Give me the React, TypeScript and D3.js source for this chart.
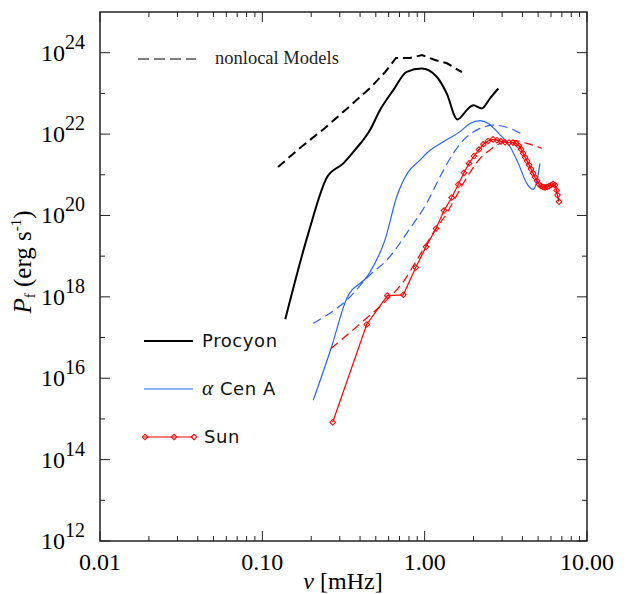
import React, { useRef, useEffect } from 'react';
import * as d3 from 'd3';

// frequency in mHz, power given as log10 P (erg s^-1)
const procyonFreq = [0.1385, 0.192, 0.2513, 0.3154, 0.3724, 0.4607, 0.5308, 0.641, 0.775, 0.959, 1.186, 1.367, 1.589, 1.857, 1.994, 2.246, 2.527, 2.842];
const procyonLogP = [17.45, 19.56, 20.95, 21.28, 21.61, 22.1, 22.59, 23.08, 23.53, 23.61, 23.41, 23.0, 22.36, 22.63, 22.71, 22.63, 22.88, 23.12];

const procyonModelFreq = [0.1249, 0.1706, 0.2432, 0.3467, 0.4607, 0.5697, 0.6661, 0.812, 0.963, 1.158, 1.373, 1.698];
const procyonModelLogP = [21.19, 21.66, 22.15, 22.69, 23.13, 23.52, 23.87, 23.87, 23.94, 23.82, 23.74, 23.52];

const acenFreq = [0.206, 0.265, 0.331, 0.4496, 0.5697, 0.6727, 0.793, 0.936, 1.029, 1.302, 1.651, 1.902, 2.192, 2.466, 2.912, 3.356, 3.775, 4.253, 4.67, 4.9, 5.134];
const acenLogP = [15.46, 16.73, 17.96, 18.54, 19.4, 20.46, 21.07, 21.36, 21.53, 21.81, 22.06, 22.26, 22.33, 22.26, 21.98, 21.69, 21.28, 20.79, 20.64, 20.83, 21.28];

const acenModelFreq = [0.206, 0.331, 0.4607, 0.5837, 0.812, 1.029, 1.243, 1.501, 1.816, 2.192, 2.648, 3.356, 4.053];
const acenModelLogP = [17.35, 17.92, 18.54, 18.9, 19.68, 20.3, 20.95, 21.53, 21.93, 22.14, 22.22, 22.14, 21.98];

const sunFreq = [0.2713, 0.4394, 0.5887, 0.7386, 0.8807, 1.019, 1.175, 1.316, 1.468, 1.612, 1.747, 1.876, 2.013, 2.161, 2.297, 2.456, 2.636, 2.79, 2.953, 3.126, 3.308, 3.501, 3.654, 3.813, 3.923, 4.036, 4.152, 4.271, 4.394, 4.52, 4.65, 4.784, 4.921, 5.063, 5.209, 5.358, 5.512, 5.671, 5.834, 6.002, 6.174, 6.352, 6.49, 6.58, 6.72];
const sunLogP = [14.92, 17.32, 18.03, 18.05, 18.72, 19.23, 19.68, 20.12, 20.44, 20.76, 21.05, 21.28, 21.46, 21.62, 21.75, 21.83, 21.87, 21.85, 21.82, 21.8, 21.79, 21.79, 21.77, 21.71, 21.63, 21.53, 21.43, 21.34, 21.24, 21.14, 21.04, 20.94, 20.85, 20.77, 20.72, 20.7, 20.69, 20.7, 20.72, 20.75, 20.77, 20.75, 20.62, 20.5, 20.34];

const sunModelFreq = [0.265, 0.4394, 0.5837, 0.7386, 0.893, 1.158, 1.367, 1.538, 1.73, 1.949, 2.192, 2.527, 2.912, 3.517, 4.253, 5.26];
const sunModelLogP = [16.73, 17.48, 17.92, 18.37, 18.9, 19.64, 20.05, 20.42, 20.79, 21.12, 21.4, 21.61, 21.77, 21.84, 21.77, 21.65];

const xTickLabels = ['0.01', '0.10', '1.00', '10.00'];
const yTickExponents = [12, 14, 16, 18, 20, 22, 24];

const BLUE = '#2a62ff';
const RED = '#ff0000';

const App = () => {
  const ref = useRef<SVGSVGElement>(null);

  useEffect(() => {
    const svg = d3.select(ref.current);
    svg.selectAll('*').remove();

    const left = 100, right = 587, top = 12, bottom = 541;
    const x = d3.scaleLog().domain([0.01, 10]).range([left, right]);
    const y = d3.scaleLog().domain([1e12, 1e25]).range([bottom, top]);

    const pts = (f: number[], p: number[]) => f.map((v, i) => [v, Math.pow(10, p[i])] as [number, number]);
    const line = d3.line<[number, number]>().x((d) => x(d[0])).y((d) => y(d[1]));
    const smooth = d3
      .line<[number, number]>()
      .x((d) => x(d[0]))
      .y((d) => y(d[1]))
      .curve(d3.curveMonotoneX);

    const g = svg.append('g');

    // curves
    g.append('path')
      .attr('d', line(pts(procyonModelFreq, procyonModelLogP)))
      .attr('fill', 'none')
      .attr('stroke', '#000')
      .attr('stroke-width', 2)
      .attr('stroke-dasharray', '9,5');
    g.append('path')
      .attr('d', smooth(pts(procyonFreq, procyonLogP)))
      .attr('fill', 'none')
      .attr('stroke', '#000')
      .attr('stroke-width', 2);
    g.append('path')
      .attr('d', smooth(pts(acenModelFreq, acenModelLogP)))
      .attr('fill', 'none')
      .attr('stroke', BLUE)
      .attr('stroke-width', 1.2)
      .attr('stroke-dasharray', '9,5');
    g.append('path')
      .attr('d', smooth(pts(acenFreq, acenLogP)))
      .attr('fill', 'none')
      .attr('stroke', BLUE)
      .attr('stroke-width', 1.2);
    g.append('path')
      .attr('d', smooth(pts(sunModelFreq, sunModelLogP)))
      .attr('fill', 'none')
      .attr('stroke', RED)
      .attr('stroke-width', 1.2)
      .attr('stroke-dasharray', '9,5');
    g.append('path')
      .attr('d', line(pts(sunFreq, sunLogP)))
      .attr('fill', 'none')
      .attr('stroke', RED)
      .attr('stroke-width', 1.2);

    const diamond = d3.symbol().type(d3.symbolSquare).size(16);
    g.selectAll('.sun-pt')
      .data(pts(sunFreq, sunLogP))
      .enter()
      .append('path')
      .attr('d', diamond)
      .attr('transform', (d) => `translate(${x(d[0])},${y(d[1])}) rotate(45)`)
      .attr('fill', 'none')
      .attr('stroke', RED)
      .attr('stroke-width', 1);

    // frame
    const axisColor = '#222';
    svg.append('rect')
      .attr('x', left)
      .attr('y', top)
      .attr('width', right - left)
      .attr('height', bottom - top)
      .attr('fill', 'none')
      .attr('stroke', axisColor)
      .attr('stroke-width', 1.5);

    // x ticks (bottom and top)
    x.ticks().forEach((t) => {
      const major = Math.abs(Math.log10(t) - Math.round(Math.log10(t))) < 1e-6;
      const len = major ? 10 : 5;
      const px = x(t);
      svg.append('line').attr('x1', px).attr('x2', px).attr('y1', bottom).attr('y2', bottom - len)
        .attr('stroke', axisColor).attr('stroke-width', 1);
      svg.append('line').attr('x1', px).attr('x2', px).attr('y1', top).attr('y2', top + len)
        .attr('stroke', axisColor).attr('stroke-width', 1);
    });
    [0.01, 0.1, 1, 10].forEach((t, i) => {
      svg.append('text')
        .attr('x', x(t))
        .attr('y', 570)
        .attr('text-anchor', 'middle')
        .attr('font-family', 'Liberation Serif')
        .attr('font-size', 24)
        .text(xTickLabels[i]);
    });

    // y ticks (left and right)
    y.ticks().forEach((t) => {
      const e = Math.round(Math.log10(t));
      if (e >= 25) return;
      const len = e % 2 === 0 ? 10 : 5;
      const py = y(t);
      svg.append('line').attr('x1', left).attr('x2', left + len).attr('y1', py).attr('y2', py)
        .attr('stroke', axisColor).attr('stroke-width', 1);
      svg.append('line').attr('x1', right).attr('x2', right - len).attr('y1', py).attr('y2', py)
        .attr('stroke', axisColor).attr('stroke-width', 1);
    });
    yTickExponents.forEach((e) => {
      const t = svg.append('text')
        .attr('x', 85)
        .attr('y', y(Math.pow(10, e)) + 8)
        .attr('text-anchor', 'end')
        .attr('font-family', 'Liberation Serif')
        .attr('font-size', 24);
      t.append('tspan').text('10');
      t.append('tspan').attr('font-size', 20).attr('dy', -12).text(String(e));
    });

    // axis titles
    const xl = svg.append('text')
      .attr('x', 343)
      .attr('y', 589)
      .attr('text-anchor', 'middle')
      .attr('font-family', 'Liberation Serif')
      .attr('font-size', 24);
    xl.append('tspan').attr('font-style', 'italic').text('ν');
    xl.append('tspan').text(' [mHz]');

    const yl = svg.append('text')
      .attr('transform', 'translate(31,262) rotate(-90)')
      .attr('text-anchor', 'middle')
      .attr('font-family', 'Liberation Serif')
      .attr('font-size', 25);
    yl.append('tspan').attr('font-style', 'italic').text('P');
    yl.append('tspan').attr('font-size', 15).attr('dy', 4).text('f');
    yl.append('tspan').attr('dy', -4).text(' (erg s');
    yl.append('tspan').attr('font-size', 15).attr('dy', -10).text('-1');
    yl.append('tspan').attr('dy', 10).text(')');

    // legends
    svg.append('line').attr('x1', 138).attr('x2', 196).attr('y1', 59).attr('y2', 59)
      .attr('stroke', '#555').attr('stroke-width', 1.5).attr('stroke-dasharray', '11,5');
    svg.append('text').attr('x', 215).attr('y', 64)
      .attr('font-family', 'Liberation Serif').attr('font-size', 18.5).attr('fill', '#222')
      .text('nonlocal Models');

    const legend = [
      { label: 'Procyon', color: '#000', width: 2, y: 341, marker: false },
      { label: 'α Cen A', color: BLUE, width: 1.2, y: 389, marker: false },
      { label: 'Sun', color: RED, width: 1.2, y: 437, marker: true },
    ];
    legend.forEach((l) => {
      svg.append('line').attr('x1', 144).attr('x2', 193).attr('y1', l.y).attr('y2', l.y)
        .attr('stroke', l.color).attr('stroke-width', l.width);
      if (l.marker) {
        [145, 174, 194].forEach((mx) => {
          svg.append('path').attr('d', diamond)
            .attr('transform', `translate(${mx},${l.y}) rotate(45)`)
            .attr('fill', 'none').attr('stroke', l.color).attr('stroke-width', 1);
        });
      }
      const t = svg.append('text').attr('x', l.marker ? 204 : 202).attr('y', l.y + 6)
        .attr('font-family', 'DejaVu Sans').attr('font-size', 18).attr('letter-spacing', 0.6).attr('fill', '#111');
      if (l.label.startsWith('α')) {
        t.append('tspan').attr('font-family', 'Liberation Serif').attr('font-style', 'italic').attr('font-size', 21).text('α');
        t.append('tspan').text(' Cen A');
      } else {
        t.text(l.label);
      }
    });
  }, []);

  return (
    <svg
      ref={ref}
      width={629}
      height={594}
      style={{ position: 'absolute', left: 0, top: 0, background: '#fff' }}
    />
  );
};

export default App;
